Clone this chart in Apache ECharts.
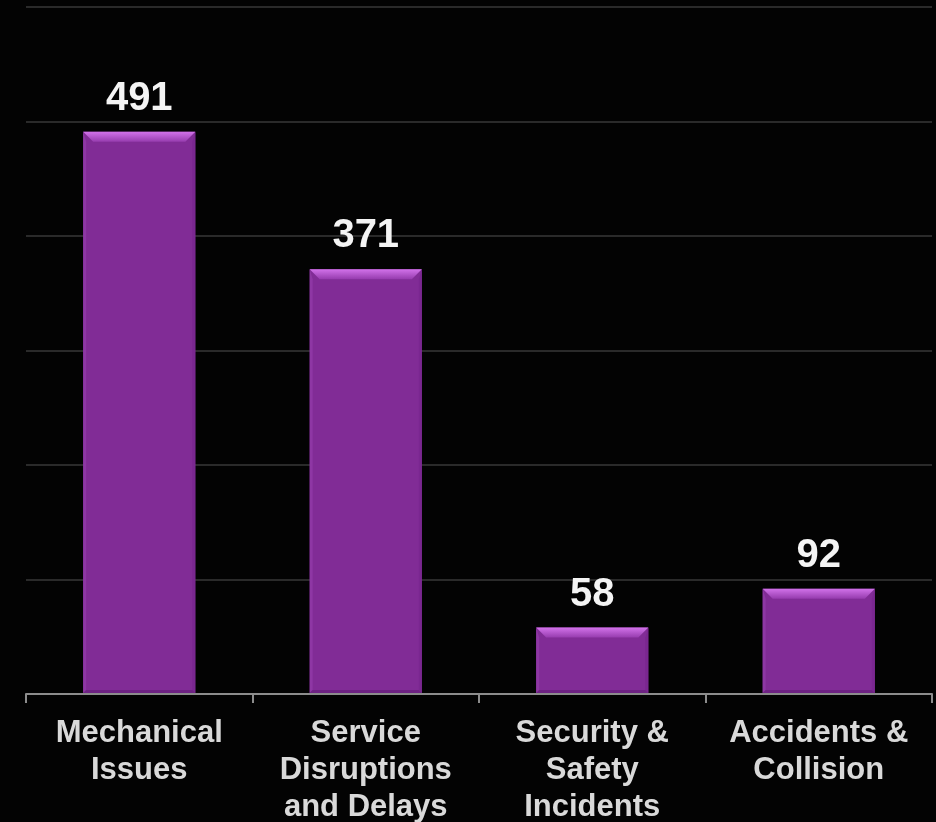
<!DOCTYPE html>
<html><head><meta charset="utf-8">
<script src="https://cdn.jsdelivr.net/npm/echarts@6/dist/echarts.min.js"></script>
<style>html,body{margin:0;padding:0;background:#000;}#c{width:936px;height:822px;}</style>
</head><body><div id="c"></div>
<script>
const categories = ['Mechanical\nIssues', 'Service\nDisruptions\nand Delays', 'Security &\nSafety\nIncidents', 'Accidents &\nCollision'];
const values = [491, 371, 58, 92];
const yTicks = [0, 100, 200, 300, 400, 500, 600];

const chart = echarts.init(document.getElementById('c'));
chart.setOption({
  backgroundColor: '#030303',
  animation: false,
  grid: { left: 26, right: 4, top: 7, bottom: 128, outerBoundsMode: 'none', containLabel: false },
  xAxis: {
    type: 'category',
    data: categories,
    axisLine: { lineStyle: { color: '#8c8c8c', width: 2 } },
    axisTick: { show: true, length: 9, lineStyle: { color: '#8c8c8c', width: 2 } },
    axisLabel: {
      color: '#d9d9d9', fontFamily: 'Liberation Sans, Arial, sans-serif', fontWeight: 'bold',
      fontSize: 31, lineHeight: 37, margin: 21, interval: 0
    }
  },
  yAxis: {
    type: 'value', min: yTicks[0], max: yTicks[yTicks.length - 1], interval: 100,
    axisLine: { show: false }, axisTick: { show: false }, axisLabel: { show: false },
    splitLine: { lineStyle: { color: '#2a2a2a', width: 2 } }
  },
  series: [{
    type: 'custom',
    data: values.map((v, i) => [i, v]),
    encode: { x: 0, y: 1 },
    renderItem: function (params, api) {
      const top = api.coord([api.value(0), api.value(1)]);
      const base = api.coord([api.value(0), 0]);
      const bw = api.size([1, 0])[0] * 0.495;
      const l = top[0] - bw / 2, r = top[0] + bw / 2, t = top[1], b = base[1] - 1;
      const bev = 10, side = 3;
      return {
        type: 'group',
        children: [
          { type: 'rect', shape: { x: l, y: t, width: r - l, height: b - t }, style: { fill: '#812C96' } },
          { type: 'polygon', shape: { points: [[l, t], [l + side, t + bev], [l + side, b - side], [l, b]] }, style: { fill: '#8E37A4' } },
          { type: 'polygon', shape: { points: [[r, t], [r - side, t + bev], [r - side, b - side], [r, b]] }, style: { fill: '#7A2790' } },
          { type: 'polygon', shape: { points: [[l, b], [l + side, b - side], [r - side, b - side], [r, b]] }, style: { fill: '#6E2283' } },
          { type: 'polygon', shape: { points: [[l, t], [r, t], [r - bev, t + bev], [l + bev, t + bev]] },
            style: { fill: new echarts.graphic.LinearGradient(0, 0, 0, 1, [{ offset: 0, color: '#D272EA' }, { offset: 1, color: '#963CAE' }]) } },
          { type: 'text', x: top[0], y: t - 13,
            style: { text: String(api.value(1)), fill: '#f4f4f4', font: 'bold 40px "Liberation Sans", Arial, sans-serif', align: 'center', verticalAlign: 'bottom' } }
        ]
      };
    }
  }]
});
</script></body></html>
